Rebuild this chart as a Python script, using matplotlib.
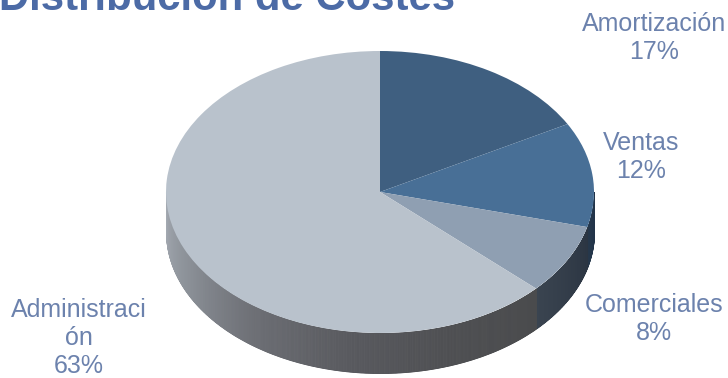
import numpy as np
import matplotlib
matplotlib.use("Agg")
import matplotlib.pyplot as plt
from matplotlib.colors import LinearSegmentedColormap

plt.rcParams['font.family'] = ['Liberation Sans', 'DejaVu Sans']

W, H = 728, 378

title = "Distribución de Costes"
categories = ["Amortización", "Ventas", "Comerciales", "Administración"]
wrapped_names = ["Amortización", "Ventas", "Comerciales", "Administraci\nón"]
values = [17, 12, 8, 63]
top_colors = ["#3f5f80", "#486f96", "#8f9fb2", "#b9c2cc"]
side_shades = [
    ["#2b3d52", "#2b3d52"],
    ["#1f3147", "#26384c"],
    ["#2b3542", "#3a4450"],
    ["#4a4b4d", "#4e4f52", "#58595e", "#6c6e74", "#8a8f96", "#a3a9b1"],
]
label_centres = [(654, 38), (641, 157), (654, 319), (79, 338)]

text_color = "#6c82ad"
title_color = "#4c6ba6"

# Pie centre and radii of the tilted disc, in pixels
cx, cy, rx, ry = 380, 192, 214, 141
depth = 40

fig = plt.figure(figsize=(W / 100, H / 100), dpi=100, facecolor="white")
ax = fig.add_axes([(cx - rx) / W, 1 - (cy + ry) / H, 2 * rx / W, 2 * ry / H])

# Side wall: thin vertical strips along the front half of the rim
thickness = depth / ry
edges = np.cumsum([0] + values) / sum(values) * 360
for i, (start, end) in enumerate(zip(edges[:-1], edges[1:])):
    lo, hi = max(start, 90), min(end, 270)
    if lo >= hi:
        continue
    cmap = LinearSegmentedColormap.from_list("wall", side_shades[i])
    steps = np.linspace(lo, hi, max(2, int((hi - lo) * 3)))
    for a, b in zip(steps[:-1], steps[1:]):
        t = np.radians(np.linspace(a, b, 4))
        x, y = np.sin(t), np.cos(t)
        shade = cmap(((a + b) / 2 - lo) / (hi - lo))
        ax.fill_between(x, y - thickness, y, color=shade, lw=0.6, clip_on=False)

# Top face of the disc
ax.pie(values, colors=top_colors, startangle=90, counterclock=False, radius=1,
       center=(0, 0), wedgeprops={"linewidth": 0, "clip_on": False})
ax.set_aspect("auto")
ax.set_xlim(-1, 1)
ax.set_ylim(-1, 1)
ax.axis("off")


def px(x, y):
    return x / W, 1 - y / H


for name, val, (lx, ly) in zip(wrapped_names, values, label_centres):
    fig.text(*px(lx, ly), f"{name}\n{val}%", ha="center", va="center",
             fontsize=18, color=text_color, linespacing=1.2)

fig.text(*px(-1, 10.5), title, ha="left", va="baseline", fontsize=30.2,
         fontweight="bold", color=title_color)

fig.savefig("out.png", dpi=100)
